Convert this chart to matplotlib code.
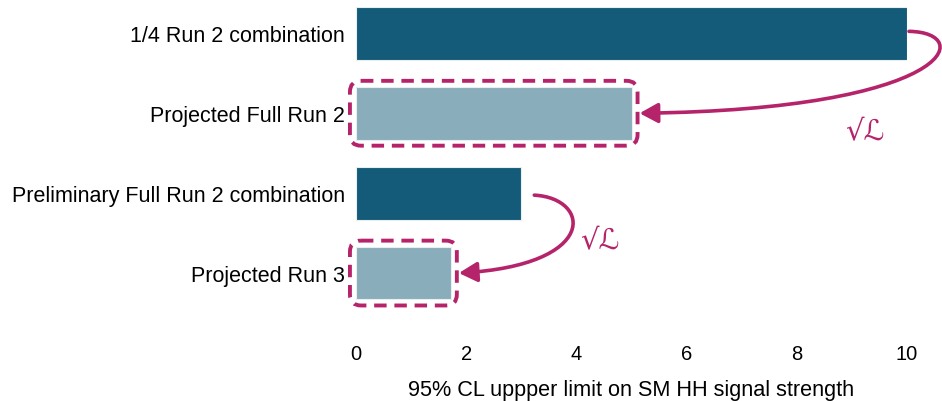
import numpy as np
import matplotlib
matplotlib.use("Agg")
import matplotlib.pyplot as plt
from matplotlib.patches import FancyArrowPatch, FancyBboxPatch
from matplotlib.path import Path
from matplotlib.transforms import IdentityTransform

# data
labels = ["1/4 Run 2 combination", "Projected Full Run 2",
          "Preliminary Full Run 2 combination", "Projected Run 3"]
limits = [10.0, 5.0, 3.0, 1.72]
projected = [False, True, False, True]
xticks = [0, 2, 4, 6, 8, 10]

dark = "#135b78"
light = "#89adbb"
magenta = "#b5246a"

plt.rcParams["font.family"] = ["Liberation Sans", "DejaVu Sans"]

fig = plt.figure(figsize=(9.42, 4.02), dpi=100)
W, H = 942, 402
ax = fig.add_axes([356 / W, (402 - 314) / H, (907 - 356) / W, 314 / H])

y = np.arange(len(labels))
colors = [light if p else dark for p in projected]
ax.barh(y, limits, height=0.66, color=colors, edgecolor="#e8eef1", linewidth=0.8)

ax.set_xlim(0, 10)
ax.set_ylim(3.5, -0.43)
ax.set_yticks(y)
ax.set_yticklabels(labels, fontsize=15.5)
ax.set_xticks(xticks)
ax.set_xticklabels([str(t) for t in xticks], fontsize=14.5)
ax.tick_params(length=0, axis="x", pad=22)
ax.tick_params(length=0, axis="y", pad=8)
for s in ax.spines.values():
    s.set_visible(False)
ax.set_xlabel("95% CL uppper limit on SM HH signal strength", fontsize=15.6, labelpad=12)

# pixel scales for rounded boxes
px_x = (ax.transData.transform((1, 0)) - ax.transData.transform((0, 0)))[0]
px_y = abs((ax.transData.transform((0, 1)) - ax.transData.transform((0, 0)))[1])

pad = 0.11
# dashed rounded boxes around projected bars
for yi, v, p in zip(y, limits, projected):
    if not p:
        continue
    box = FancyBboxPatch((0, yi - 0.33), v, 0.66,
                         boxstyle=f"round,pad={pad},rounding_size=0.2",
                         mutation_aspect=px_x / px_y,
                         fill=False, edgecolor=magenta, linewidth=2.8,
                         linestyle=(0, (3.2, 2.0)), clip_on=False, zorder=3)
    ax.add_patch(box)


def disp(xd, yd, dx=0.0, dy=0.0):
    # data point shifted by pixel offsets (dy positive = downwards)
    px, py = ax.transData.transform((xd, yd))
    return (px + dx, py - dy)


# curved arrows from measured limit to projected limit
arrow_specs = [
    # (from bar, start offset, ctrl1 offset from start, ctrl2 offset from start, label pos)
    (0, (2, -2), (68, 1), (43, 78), (9.24, 1.23)),
    (2, (13, 2), (57, 3), (65, 70), (4.43, 2.59)),
]
for i, s_off, c1, c2, lab in arrow_specs:
    j = i + 1
    p0 = disp(limits[i], y[i], *s_off)
    p3 = disp(limits[j] + pad, y[j], 2, 0)
    p1 = (p0[0] + c1[0], p0[1] - c1[1])
    p2 = (p0[0] + c2[0], p0[1] - c2[1])
    path = Path([p0, p1, p2, p3], [Path.MOVETO, Path.CURVE4, Path.CURVE4, Path.CURVE4])
    arr = FancyArrowPatch(path=path, arrowstyle="-|>,head_length=11,head_width=6",
                          color=magenta, linewidth=2.6, transform=IdentityTransform(),
                          clip_on=False, zorder=4)
    ax.add_patch(arr)
    ax.text(lab[0], lab[1], "√ℒ", color=magenta, fontsize=21, fontstyle="italic",
            family=["DejaVu Sans"], ha="center", va="center", clip_on=False)

fig.savefig("out.png", dpi=100)
